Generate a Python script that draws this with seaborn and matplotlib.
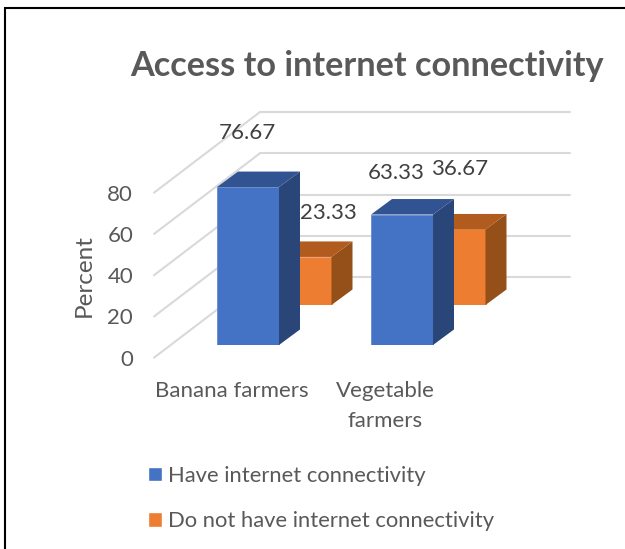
import matplotlib
matplotlib.use("Agg")
import matplotlib.pyplot as plt
from matplotlib.lines import Line2D
from matplotlib.patches import Patch, Polygon
from matplotlib.transforms import IdentityTransform
import pandas as pd
import seaborn as sns

categories = ["Banana farmers", "Vegetable\nfarmers"]
have_internet = [76.67, 63.33]
no_internet = [23.33, 36.67]
series_names = ["Have internet connectivity", "Do not have internet connectivity"]
y_ticks = [0, 20, 40, 60, 80]

W, H = 625, 549
sns.set_theme(style="white")
plt.rcParams["font.family"] = ["Lato", "DejaVu Sans"]

fig = plt.figure(figsize=(W / 100, H / 100), dpi=100, facecolor="white")


def rect(left, top, right, bottom):
    return [left / W, 1 - bottom / H, (right - left) / W, (bottom - top) / H]


def new_axes(box, z):
    ax = fig.add_axes(rect(*box), zorder=z)
    ax.patch.set_visible(False)
    sns.despine(ax=ax, left=True, bottom=True)
    ax.set_ylim(0, 80)
    ax.tick_params(length=0)
    return ax


GRID = "#D9D9D9"
TXT = "#595959"
TICK_FS = 16

# back wall with gridlines
ax_wall = new_axes((260, 112, 569.5, 277), 1)
ax_wall.set_xticks([])
ax_wall.set_yticks(y_ticks)
ax_wall.set_yticklabels([])
ax_wall.grid(axis="y", color=GRID, lw=1.5)
ax_wall.set_axisbelow(True)
for g in ax_wall.get_ygridlines():
    g.set_clip_on(False)

# front value scale
ax_scale = new_axes((154, 192.7, 155, 357.7), 2)
ax_scale.set_xticks([])
ax_scale.set_yticks(y_ticks)
ax_scale.tick_params(axis="y", labelsize=TICK_FS, labelcolor=TXT, pad=15)
ax_scale.set_ylabel("Percent", fontsize=17.5, color=TXT, labelpad=9)

# diagonal side wall lines joining scale and back wall
for v in y_ticks:
    x0, y0 = ax_scale.transData.transform((0, v))
    x1, y1 = ax_wall.transData.transform((ax_wall.get_xlim()[0], v))
    fig.add_artist(Line2D([x0, x1], [y0, y1], transform=IdentityTransform(),
                          color=GRID, lw=1.5, zorder=0.5))


def bars(box, values, face, side, top, edge, z):
    ax = new_axes(box, z)
    df = pd.DataFrame({"cat": categories, "val": values})
    sns.barplot(data=df, x="cat", y="val", order=categories, color=face, saturation=1,
                width=62 / 154, edgecolor=edge, linewidth=0.7, ax=ax, errorbar=None)
    ax.set_xlim(-0.5, 1.5)
    ax.set_ylim(0, 80)
    ax.set_xlabel("")
    ax.set_ylabel("")
    ax.set_xticks([])
    ax.set_yticks([])
    dx, dy = 21, 15.5
    for p in list(ax.patches):
        (xa, ya), (xb, yb) = ax.transData.transform(
            [(p.get_x(), p.get_y()), (p.get_x() + p.get_width(), p.get_y() + p.get_height())])
        ax.add_artist(Polygon([(xb, ya), (xb + dx, ya + dy), (xb + dx, yb + dy), (xb, yb)],
                              transform=IdentityTransform(), facecolor=side, edgecolor="none",
                              clip_on=False))
        ax.add_artist(Polygon([(xa, yb), (xa + dx, yb + dy), (xb + dx, yb + dy), (xb, yb)],
                              transform=IdentityTransform(), facecolor=top, edgecolor="none",
                              clip_on=False))
    return ax


# orange series sits one depth step behind the blue one
ax_back = bars((223.5, 140.2, 531.5, 305), no_internet, "#ED7D31", "#95501A", "#B25B1F", "#F3A26B", 3)
ax_front = bars((171, 180.2, 479, 345), have_internet, "#4472C4", "#2A4678", "#325392", "#6D90D2", 4)

# category labels sit a little left of the bars they name
ax_cat = new_axes((154.5, 180.2, 462.5, 345), 5)
ax_cat.set_xlim(-0.5, 1.5)
ax_cat.set_yticks([])
ax_cat.set_xticks([0, 1])
ax_cat.set_xticklabels(categories, fontsize=TICK_FS, color=TXT, linespacing=1.62)
ax_cat.tick_params(axis="x", pad=25.7)

# value labels
LABEL = "#404040"
offs_front = [(-1, 54.5), (-6, 42)]
offs_back = [(27.5, 44), (5, 60)]
for ax, vals, offs in ((ax_front, have_internet, offs_front), (ax_back, no_internet, offs_back)):
    for i, (v, o) in enumerate(zip(vals, offs)):
        ax.annotate(f"{v:.2f}", xy=(i, v), xytext=o, textcoords="offset pixels",
                    ha="center", va="center", fontsize=TICK_FS, color=LABEL,
                    annotation_clip=False)

fig.text(367 / W, 1 - 66 / H, "Access to internet connectivity", ha="center", va="center",
         fontsize=24.7, fontweight="bold", color=TXT)

LEG_FS = 15.85
fs_px = LEG_FS / 0.72
leg = fig.legend(
    handles=[Patch(facecolor="#4472C4", label=series_names[0]),
             Patch(facecolor="#ED7D31", label=series_names[1])],
    loc="upper left", bbox_to_anchor=(148 / W, 1 - 465.5 / H), frameon=False,
    fontsize=LEG_FS, labelcolor=TXT, borderpad=0, borderaxespad=0,
    handlelength=14 / fs_px, handleheight=14 / fs_px, handletextpad=6 / fs_px,
    labelspacing=1.17)

# outer frame: only its left and top edges are inside the picture
fig.add_artist(Line2D([5, 5, W], [0, H - 8, H - 8], transform=IdentityTransform(),
                      color="black", lw=1.5, zorder=10, solid_joinstyle="miter"))

fig.savefig("out.png", dpi=100)
